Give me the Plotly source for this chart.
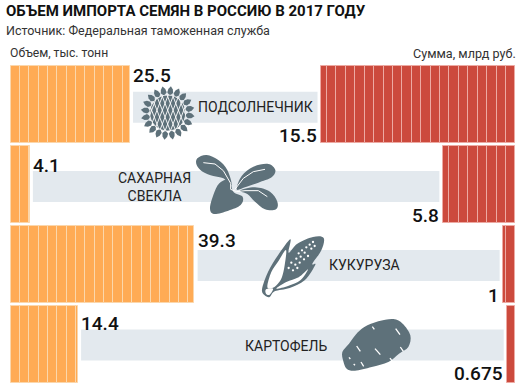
import math
import plotly.graph_objects as go

# ---- data ----
crops = ["ПОДСОЛНЕЧНИК", "САХАРНАЯ<br>СВЕКЛА", "КУКУРУЗА", "КАРТОФЕЛЬ"]
volume = [25.5, 4.1, 39.3, 14.4]
volume_labels = ["25.5", "4.1", "39.3", "14.4"]
amount = [15.5, 5.8, 1, 0.675]
amount_labels = ["15.5", "5.8", "1", "0.675"]
volume_step = 2.0
amount_step = 0.75

title = "ОБЪЕМ ИМПОРТА СЕМЯН В РОССИЮ В 2017 ГОДУ"
source = "Источник: Федеральная таможенная служба"
left_head = "Объем, тыс. тонн"
right_head = "Сумма, млрд руб."

# ---- layout constants ----
W, H = 524, 386
VOL0, VOL_K = 10.5, 4.68      # px of zero, px per unit
SUM0, SUM_K = 515.4, 12.56
ROW0, ROW_STEP = 104.5, 80.0
ORANGE, ORANGE_EDGE = "#FFAB55", "#FBD7AC"
RED, RED_EDGE = "#CC4A3D", "#EDAAA3"
BAND = "#E3E9EE"
ICON = "#5E717A"
INK = "#111111"
FONT = "Roboto"


def vol_px(v):
    return VOL0 + VOL_K * v


def sum_px(v):
    return SUM0 - SUM_K * v


def px(x):
    return x / W


def py(y):
    return 1 - y / H


def segments(values, step):
    ys, bases, widths = [], [], []
    for i, v in enumerate(values):
        start = 0.0
        while start < v - 1e-9:
            ys.append(i)
            bases.append(start)
            widths.append(min(step, v - start))
            start += step
    return ys, bases, widths


fig = go.Figure()
for vals, step, col, edge, ax in [
    (volume, volume_step, ORANGE, ORANGE_EDGE, "x"),
    (amount, amount_step, RED, RED_EDGE, "x2"),
]:
    ys, bases, widths = segments(vals, step)
    fig.add_trace(go.Bar(
        y=ys, x=widths, base=bases, orientation="h", width=0.965,
        xaxis=ax, yaxis="y", showlegend=False, hoverinfo="skip",
        marker=dict(color=col, line=dict(color=edge, width=1)),
    ))


# ---- icon helpers (pixel geometry, not data) ----
def to_paper(x, y):
    return f"{px(x):.5f},{py(y):.5f}"


def smooth(pts, ox=0, oy=0, k=3.0):
    p = [(ox + x / k, oy + y / k) for x, y in pts]
    n = len(p)
    d = "M" + to_paper(*p[0])
    for i in range(n):
        p0, p1, p2, p3 = p[(i - 1) % n], p[i], p[(i + 1) % n], p[(i + 2) % n]
        c1 = (p1[0] + (p2[0] - p0[0]) / 6, p1[1] + (p2[1] - p0[1]) / 6)
        c2 = (p2[0] - (p3[0] - p1[0]) / 6, p2[1] - (p3[1] - p1[1]) / 6)
        d += f" C{to_paper(*c1)} {to_paper(*c2)} {to_paper(*p2)}"
    return d + " Z"


def openline(pts, ox=0, oy=0, k=3.0):
    p = [(ox + x / k, oy + y / k) for x, y in pts]
    return "M" + " L".join(to_paper(*q) for q in p)


shapes = []


def fill(path, color=ICON):
    shapes.append(dict(type="path", path=path, xref="paper", yref="paper",
                       fillcolor=color, line=dict(width=0), layer="above"))


def stroke(path, color="#FFFFFF", width=1.0):
    shapes.append(dict(type="path", path=path, xref="paper", yref="paper",
                       line=dict(color=color, width=width), layer="above"))


# ---- grey bands between the bars ----
band_half = 15.5
band_y = [107.2, 186.5, 265.5, 345.0]
for i in range(4):
    x0 = vol_px(volume[i]) + 3.2
    x1 = sum_px(amount[i]) - 3.2
    shapes.append(dict(type="rect", xref="paper", yref="paper", layer="below",
                       x0=px(x0), x1=px(x1), y0=py(band_y[i] - band_half),
                       y1=py(band_y[i] + band_half),
                       fillcolor=BAND, line=dict(width=0)))

# sunflower
cx, cy = 167.7, 113.0
n_pet = 20
for j in range(n_pet):
    a = 2 * math.pi * j / n_pet + 0.12
    ca, sa = math.cos(a), math.sin(a)
    pts = [(17.5, 0), (20.5, 2.9), (24, 2.3), (27, 0)]
    left = [(cx + r * ca - w * sa, cy + r * sa + w * ca) for r, w in pts]
    right = [(cx + r * ca + w * sa, cy + r * sa - w * ca) for r, w in pts[1:-1][::-1]]
    fill("M" + " L".join(to_paper(*q) for q in left + right) + " Z")
R = 18.0
shapes.append(dict(type="circle", xref="paper", yref="paper", layer="above",
                   x0=px(cx - R), x1=px(cx + R), y0=py(cy - R), y1=py(cy + R),
                   fillcolor=ICON, line=dict(color="#FFFFFF", width=0.8)))
for sgn in (1, -1):
    dirx, diry = math.cos(sgn * 1.2), math.sin(sgn * 1.2)
    nx_, ny_ = -diry, dirx
    for off in range(-16, 17, 5):
        h = math.sqrt(max(R * R - off * off, 0))
        a_ = (cx + off * nx_ - h * dirx, cy + off * ny_ - h * diry)
        b_ = (cx + off * nx_ + h * dirx, cy + off * ny_ + h * diry)
        stroke("M" + to_paper(*a_) + " L" + to_paper(*b_), width=0.9)

# sugar beet
bx, by = 190, 150
fill(smooth([(125, 105), (112, 60), (85, 30), (50, 15), (22, 25), (20, 45), (38, 65), (70, 78), (100, 85)], bx, by))
fill(smooth([(140, 118), (155, 78), (190, 50), (235, 42), (256, 60), (245, 82), (205, 98), (165, 112)], bx, by))
fill(smooth([(150, 122), (195, 112), (240, 125), (262, 155), (258, 178), (225, 178), (195, 155), (172, 132)], bx, by))
fill(smooth([(118, 88), (88, 100), (70, 135), (60, 175), (72, 192), (115, 182), (152, 165), (158, 140), (130, 125)], bx, by))
stroke(openline([(40, 38), (75, 42), (100, 62), (122, 100)], bx, by), width=1.0)
stroke(openline([(122, 100), (122, 118), (140, 125), (165, 122), (205, 122), (232, 140)], bx, by), width=1.0)
stroke(openline([(135, 118), (160, 85), (190, 65), (225, 58)], bx, by), width=1.0)

# corn
kx, ky = 258, 232
fill(smooth([(12, 172), (30, 120), (60, 70), (97, 22), (92, 62), (118, 35), (165, 15), (197, 18), (190, 55), (163, 95), (172, 98), (140, 145), (95, 168), (50, 178), (35, 195), (20, 190)], kx, ky))
fill(smooth([(28, 165), (40, 120), (62, 86), (84, 54), (80, 100), (72, 135), (62, 152), (45, 167)], kx, ky), "#FFFFFF")
fill(smooth([(55, 170), (85, 150), (122, 136), (150, 112), (128, 144), (90, 162)], kx, ky), "#FFFFFF")
fill(smooth([(24, 172), (45, 170), (35, 188), (24, 185)], kx, ky), "#FFFFFF")
for c in [(165, 30), (155, 38), (145, 46), (170, 42), (160, 50),
          (132, 55), (122, 64), (140, 62), (128, 74), (115, 80),
          (138, 82), (125, 92), (112, 98), (100, 92), (92, 108),
          (118, 108), (105, 115), (150, 72)]:
    x_, y_ = kx + c[0] / 3, ky + c[1] / 3
    rr = 1.15
    shapes.append(dict(type="circle", xref="paper", yref="paper", layer="above",
                       x0=px(x_ - rr), x1=px(x_ + rr), y0=py(y_ - rr), y1=py(y_ + rr),
                       fillcolor="#FFFFFF", line=dict(width=0)))

# potato
tx, ty = 335, 312
fill(smooth([(25, 148), (22, 120), (42, 95), (62, 68), (88, 45), (130, 28), (175, 21), (203, 35), (226, 70), (220, 105), (192, 125), (160, 150), (110, 165), (60, 176), (35, 170)], tx, ty))
for a_, b_ in [((112, 44), (118, 52)), ((182, 50), (195, 68)), ((65, 102), (76, 118)), ((120, 110), (136, 128)),
               ((196, 105), (205, 118)), ((165, 138), (172, 148)), ((42, 136), (46, 141)), ((56, 156), (60, 160)),
               ((78, 150), (86, 163))]:
    stroke(openline([a_, b_], tx, ty), width=1.3)

annotations = []


def text(x, y, s, size, anchor="left", color=INK, bold=False, weight=None):
    font = dict(family=FONT, size=size, color=color)
    if weight:
        font["weight"] = weight
    annotations.append(dict(
        xref="paper", yref="paper", x=px(x), y=py(y), text=f"<b>{s}</b>" if bold else s,
        showarrow=False, xanchor=anchor, yanchor="middle", align="center",
        borderpad=0, borderwidth=0, font=font,
    ))


text(6, 11, title, 15.0, bold=True)
text(6, 30, source, 12.5, color="#333333")
text(9.5, 53, left_head, 12.2, color="#333333")
text(413, 53, right_head, 12.6, color="#333333")

value_dy = [-29.5, -19.5, -24.5, -21.5]
amount_dy = [30.5, 30.5, 30.5, 28.5]
crop_x = [255, 154, 364, 285.5]
crop_y = [107, 187, 265, 346]
for i in range(4):
    yc = ROW0 + ROW_STEP * i
    text(vol_px(volume[i]) + 3.2, yc + value_dy[i], volume_labels[i], 19, weight=500)
    text(sum_px(amount[i]) - 4, yc + amount_dy[i], amount_labels[i], 19, anchor="right", weight=500)
    text(crop_x[i], crop_y[i], crops[i], 14.0, anchor="center", color="#222222")

fig.update_layout(
    width=W, height=H, margin=dict(l=0, r=0, t=0, b=0), autosize=False,
    paper_bgcolor="#FFFFFF", plot_bgcolor="#FFFFFF", barmode="overlay",
    bargap=0, showlegend=False,
    xaxis=dict(domain=[0, 1], range=[-VOL0 / VOL_K, (W - VOL0) / VOL_K], visible=False, fixedrange=True),
    xaxis2=dict(domain=[0, 1], overlaying="x", range=[SUM0 / SUM_K, (SUM0 - W) / SUM_K], visible=False, fixedrange=True),
    yaxis=dict(domain=[0, 1], range=[(H - ROW0) / ROW_STEP, -ROW0 / ROW_STEP], visible=False, fixedrange=True),
    shapes=shapes, annotations=annotations,
)
fig.write_html("out.html", config={"displayModeBar": False},
               post_script="document.body.style.margin='0';document.body.style.overflow='hidden';")
